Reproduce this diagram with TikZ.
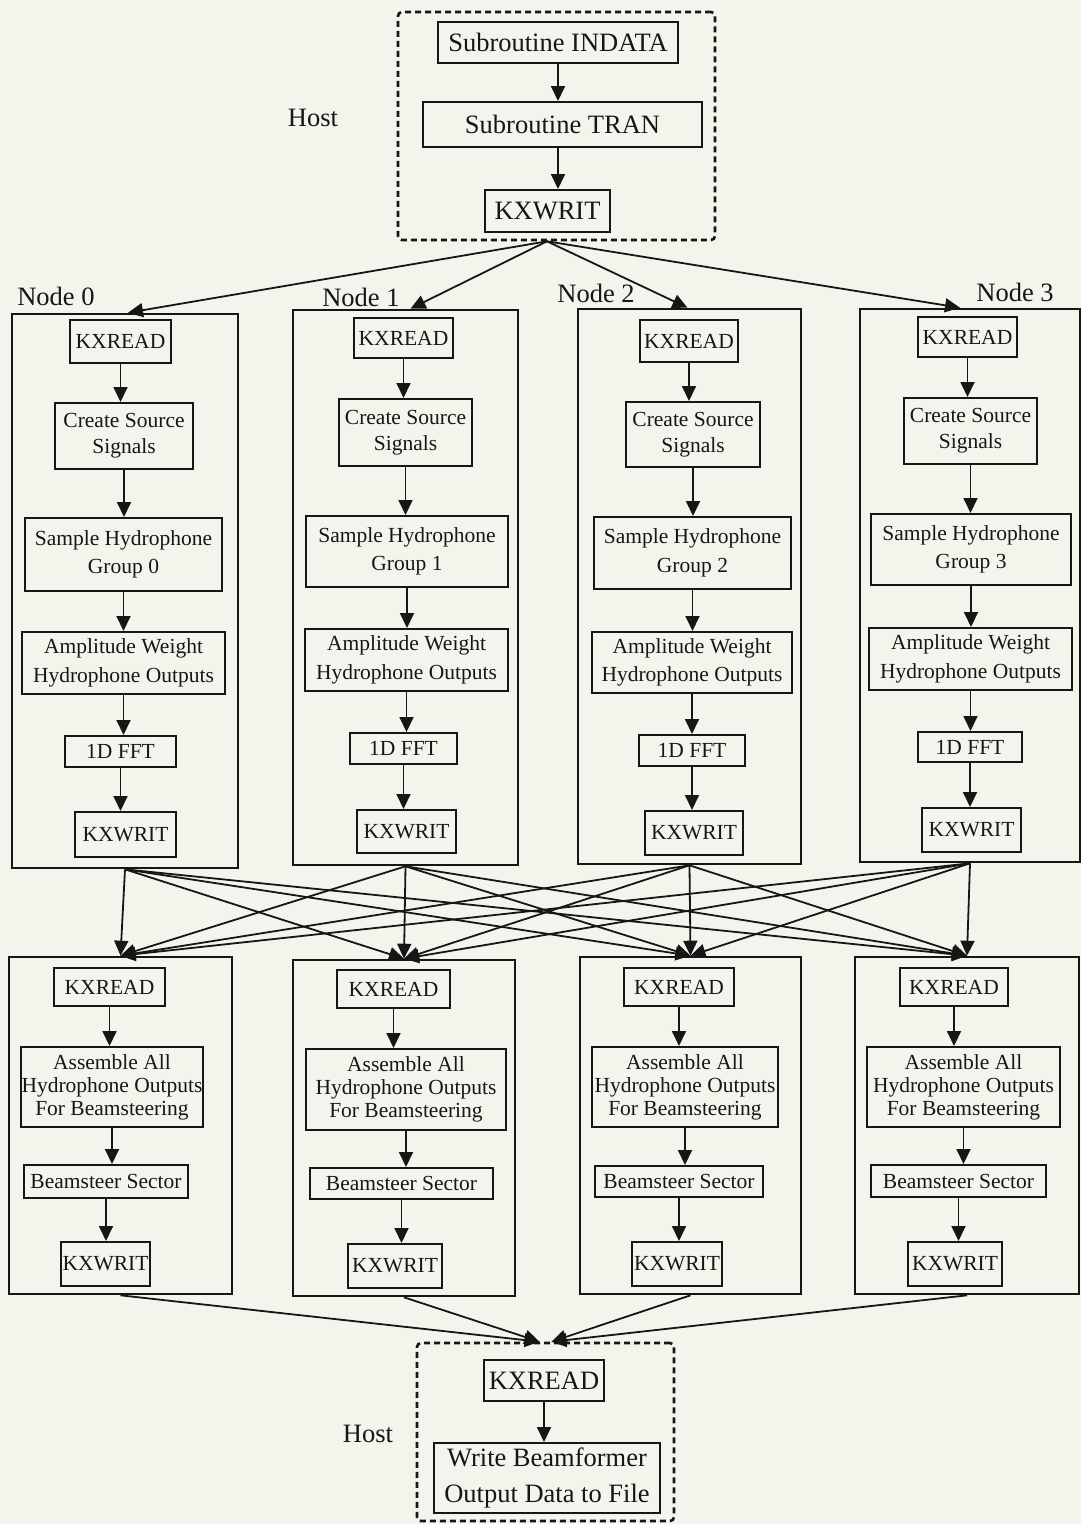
\documentclass[tikz,border=0pt]{standalone}
\usepackage{fontspec}
\setmainfont{Liberation Serif}
\usetikzlibrary{arrows.meta}
\definecolor{bg}{RGB}{245,244,236}
\definecolor{ink}{RGB}{22,22,22}
\tikzset{
  box/.style={draw=ink, line width=2pt, inner sep=0pt, align=center, text=ink,
              font=\fontsize{21.5}{26}\selectfont},
  box28/.style={box, font=\fontsize{21.5}{28.5}\selectfont},
  box23/.style={box, font=\fontsize{21.5}{23}\selectfont},
  bigbox/.style={box, font=\fontsize{26.5}{36}\selectfont},
  outerbox/.style={draw=ink, line width=2.6pt, inner sep=0pt},
  hostbox/.style={draw=ink, line width=2.6pt, dash pattern=on 6pt off 4pt,
                  rounded corners=4pt, inner sep=0pt},
  arr/.style={draw=ink, line width=1.8pt, -{Triangle[length=15pt,width=14pt]}},
  lbl/.style={font=\fontsize{26.5}{32}\selectfont, text=ink, inner sep=0pt},
}
\newcommand\bx[7]{\node[#6, minimum width=#4pt, minimum height=#5pt] (#1) at (#2,#3) {#7};}
\newcommand\va[2]{\draw[arr] (#1.south) -- (#1.south |- #2.north);}
\begin{document}
\begin{tikzpicture}[x=1pt,y=-1pt]
\fill[bg] (0,0) rectangle (1081,1524);
\useasboundingbox (0,0) rectangle (1081,1524);

% ---------- top host ----------
\bx{hostT}{556.5}{126}{317}{228}{hostbox}{}
\bx{hin}{558}{42.5}{240}{41}{bigbox}{Subroutine INDATA}
\bx{htr}{562.5}{124.5}{279}{45}{bigbox}{Subroutine TRAN}
\bx{hkw}{547.5}{211}{125}{42}{bigbox}{KXWRIT}
\node[lbl] (hl1) at (313,118) {Host};
\draw[arr] (hin.south) -- (hin.south |- htr.north);
\draw[arr] ([xshift=-4.5pt]htr.south) -- ([xshift=-4.5pt]htr.south |- hkw.north);

% ---------- node columns ----------
\bx{n0}{125}{591}{226}{554}{outerbox}{}
\bx{n1}{405.5}{587.5}{225}{555}{outerbox}{}
\bx{n2}{689.5}{586.5}{223}{555}{outerbox}{}
\bx{n3}{970}{585.5}{220}{553}{outerbox}{}
\node[lbl] (l0) at (56,296) {Node 0};
\node[lbl] (l1) at (361,297) {Node 1};
\node[lbl] (l2) at (596,293) {Node 2};
\node[lbl] (l3) at (1015,292) {Node 3};

% column 0
\bx{a0}{120.5}{341.5}{101}{43}{box}{KXREAD}
\bx{b0}{124}{436}{138}{66}{box}{Create Source\\Signals}
\bx{c0}{123.5}{554.5}{197}{73}{box28}{Sample Hydrophone\\Group 0}
\bx{d0}{123.5}{663}{203}{62}{box28}{Amplitude Weight\\Hydrophone Outputs}
\bx{e0}{120.5}{751.5}{111}{31}{box}{1D FFT}
\bx{f0}{125.5}{834.5}{101}{45}{box}{KXWRIT}
% column 1
\bx{a1}{403.5}{338}{99}{40}{box}{KXREAD}
\bx{b1}{405.5}{432.5}{133}{67}{box}{Create Source\\Signals}
\bx{c1}{407}{551.5}{202}{71}{box28}{Sample Hydrophone\\Group 1}
\bx{d1}{406.5}{660}{203}{62}{box28}{Amplitude Weight\\Hydrophone Outputs}
\bx{e1}{403.5}{748.5}{107}{31}{box}{1D FFT}
\bx{f1}{406.5}{831.5}{99}{43}{box}{KXWRIT}
% column 2
\bx{a2}{689}{341}{98}{42}{box}{KXREAD}
\bx{b2}{693}{434.5}{134}{65}{box}{Create Source\\Signals}
\bx{c2}{692.5}{553}{197}{72}{box28}{Sample Hydrophone\\Group 2}
\bx{d2}{692}{662.5}{200}{61}{box28}{Amplitude Weight\\Hydrophone Outputs}
\bx{e2}{692}{750.5}{106}{31}{box}{1D FFT}
\bx{f2}{694}{833}{98}{44}{box}{KXWRIT}
% column 3
\bx{a3}{967.5}{337}{99}{40}{box}{KXREAD}
\bx{b3}{970.5}{431}{133}{66}{box}{Create Source\\Signals}
\bx{c3}{971}{549.5}{200}{71}{box28}{Sample Hydrophone\\Group 3}
\bx{d3}{970.5}{659}{203}{62}{box28}{Amplitude Weight\\Hydrophone Outputs}
\bx{e3}{970}{747}{104}{30}{box}{1D FFT}
\bx{f3}{971.5}{830}{99}{44}{box}{KXWRIT}

\foreach \i in {0,1,2,3}{
  \va{a\i}{b\i}
  \va{b\i}{c\i}
  \va{c\i}{d\i}
  \va{d\i}{e\i}
  \va{e\i}{f\i}
}

% host -> nodes
\draw[arr] ([xshift=-9.5pt]hostT.south) -- ([xshift=3pt]n0.north);
\draw[arr] ([xshift=-9.5pt]hostT.south) -- ([xshift=5pt]n1.north);
\draw[arr] ([xshift=-9.5pt]hostT.south) -- ([xshift=-2pt]n2.north);
\draw[arr] ([xshift=-9.5pt]hostT.south) -- ([xshift=-10pt]n3.north);

% ---------- bottom columns ----------
\bx{m0}{120.5}{1125.5}{223}{337}{outerbox}{}
\bx{m1}{404}{1128}{222}{336}{outerbox}{}
\bx{m2}{690.5}{1125.5}{221}{337}{outerbox}{}
\bx{m3}{967}{1125.5}{224}{337}{outerbox}{}

\bx{p0}{109.5}{987}{111}{38}{box}{KXREAD}
\bx{q0}{112}{1087}{182}{80}{box23}{Assemble All\\Hydrophone Outputs\\For Beamsteering}
\bx{r0}{106}{1181.5}{164}{33}{box}{Beamsteer Sector}
\bx{s0}{105.5}{1264}{89}{44}{box}{KXWRIT}

\bx{p1}{393.5}{989}{113}{38}{box}{KXREAD}
\bx{q1}{406}{1089.5}{200}{81}{box23}{Assemble All\\Hydrophone Outputs\\For Beamsteering}
\bx{r1}{401.5}{1183.5}{183}{31}{box}{Beamsteer Sector}
\bx{s1}{395}{1266}{94}{44}{box}{KXWRIT}

\bx{p2}{679}{987}{110}{38}{box}{KXREAD}
\bx{q2}{685}{1087}{186}{80}{box23}{Assemble All\\Hydrophone Outputs\\For Beamsteering}
\bx{r2}{679}{1181.5}{168}{31}{box}{Beamsteer Sector}
\bx{s2}{677}{1264}{90}{44}{box}{KXWRIT}

\bx{p3}{954}{987}{108}{38}{box}{KXREAD}
\bx{q3}{963.5}{1087}{193}{80}{box23}{Assemble All\\Hydrophone Outputs\\For Beamsteering}
\bx{r3}{958.5}{1181}{175}{32}{box}{Beamsteer Sector}
\bx{s3}{955}{1264}{94}{44}{box}{KXWRIT}

\foreach \i in {0,1,2,3}{
  \va{p\i}{q\i}
  \va{q\i}{r\i}
  \va{r\i}{s\i}
}

% all-to-all exchange
\foreach \i in {0,1,2,3}{
  \foreach \j in {0,1,2,3}{
    \draw[arr] (n\i.south) -- (m\j.north);
  }
}

% ---------- bottom host ----------
\bx{hostB}{545.5}{1432}{257}{178}{hostbox}{}
\bx{hkr}{544}{1380.5}{120}{41}{bigbox}{KXREAD}
\bx{hwb}{547}{1478}{226}{70}{bigbox}{Write Beamformer\\Output Data to File}
\node[lbl] (hl2) at (368,1434) {Host};
\draw[arr] (hkr.south) -- (hkr.south |- hwb.north);

\draw[arr] (m0.south) -- ([xshift=-6pt]hostB.north);
\draw[arr] (m1.south) -- ([xshift=-6pt]hostB.north);
\draw[arr] (m2.south) -- ([xshift=6pt]hostB.north);
\draw[arr] (m3.south) -- ([xshift=6pt]hostB.north);
\end{tikzpicture}
\end{document}
